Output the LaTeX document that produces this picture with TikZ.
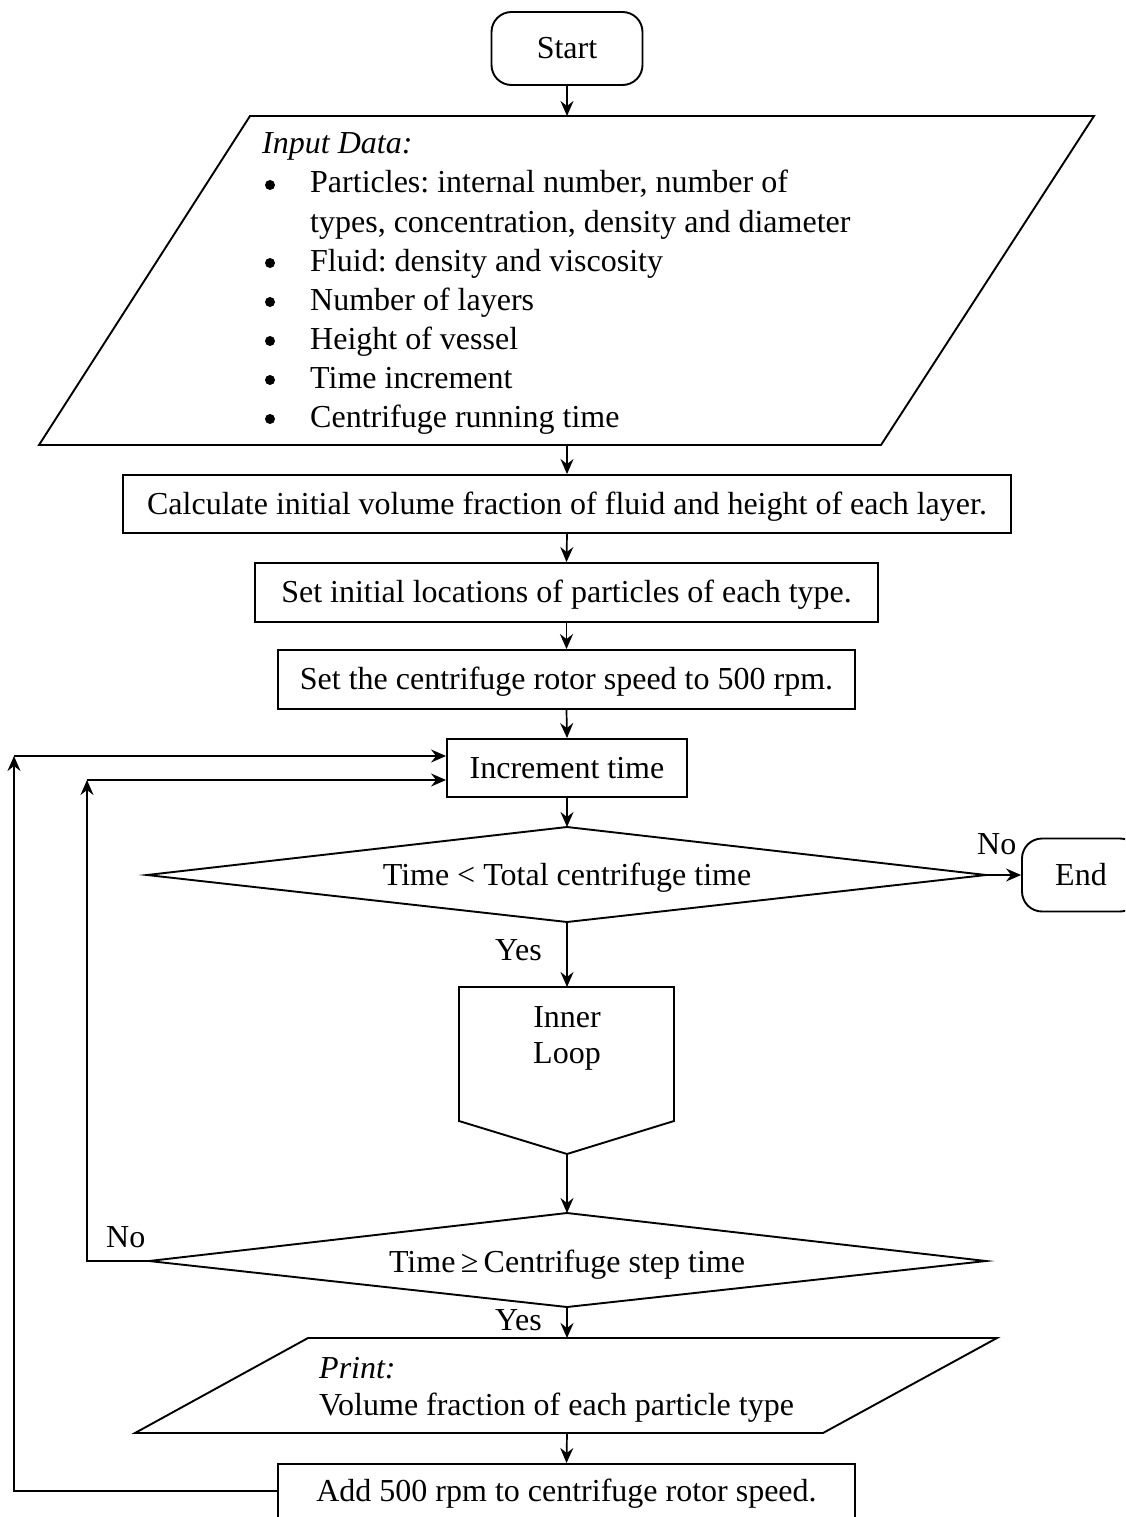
\documentclass[tikz,border=0pt]{standalone}
\usepackage{fontspec}
\setmainfont{Liberation Serif}
\usetikzlibrary{arrows.meta}
\begin{document}
\frenchspacing
\begin{tikzpicture}[x=1pt,y=-1pt,
  every node/.style={font=\fontsize{32}{38}\selectfont},
  shp/.style={draw, line width=1.9pt},
  boxn/.style={shp, inner sep=0pt, text height=20pt, text depth=0pt},
  term/.style={boxn, rounded corners=20pt, minimum height=73pt},
  arr/.style={line width=1.7pt, -{Stealth[length=15pt,width=13pt,inset=5pt]}},
  txt/.style={anchor=base west, inner sep=0pt},
  ctxt/.style={anchor=base, inner sep=0pt}]
\useasboundingbox (0,0) rectangle (1125,1517);
\clip (0,0) rectangle (1125,1517);
\fill[white] (0,0) rectangle (1125,1517);

% Start
\node[term, minimum width=151pt] (start) at (567,48.5) {Start};

% Input parallelogram
\draw[shp] (250,116) -- (1094,116) -- (881,445) -- (39,445) -- cycle;
\coordinate (inTop) at (567,116);
\coordinate (inBot) at (567,445);
\node[txt] (inhead) at (262,154) {\itshape Input Data:};
\foreach \y/\t [count=\i] in {193/{Particles: internal number, number of},
  271/{Fluid: density and viscosity},
  310/{Number of layers},
  349/{Height of vessel},
  388/{Time increment},
  427/{Centrifuge running time}}{
  \fill (270,\y-8) circle (5pt);
  \node[txt] (item\i) at (310,\y) {\t};
}
\node[txt] (item1b) at (310,232) {types, concentration, density and diameter};

% Boxes
\node[boxn, minimum width=888pt, minimum height=58pt] (calc) at (567,504) {Calculate initial volume fraction of fluid and height of each layer.};
\node[boxn, minimum width=623pt, minimum height=59pt] (setloc) at (566.5,592.5) {Set initial locations of particles of each type.};
\node[boxn, minimum width=577pt, minimum height=59pt] (rotor) at (566.5,679.5) {Set the centrifuge rotor speed to 500 rpm.};
\node[boxn, minimum width=240pt, minimum height=58pt] (inc) at (567,768) {Increment time};

% Diamond 1
\draw[shp] (567,827) -- (986,875) -- (567,922) -- (147,875) -- cycle;
\coordinate (d1top) at (567,827);
\coordinate (d1bot) at (567,922);
\coordinate (d1right) at (986,875);
\node[ctxt] (d1text) at (567,885) {Time < Total centrifuge time};

% End
\node[term, minimum width=118pt] (end) at (1081,875) {End};

% Inner loop
\draw[shp] (459,987) -- (674,987) -- (674,1121) -- (567,1154) -- (459,1121) -- cycle;
\coordinate (ilTop) at (567,987);
\coordinate (ilBot) at (567,1154);
\node[ctxt] (il1) at (567,1027) {Inner};
\node[ctxt] (il2) at (567,1063) {Loop};

% Diamond 2
\draw[shp] (567,1213) -- (986,1261) -- (567,1307) -- (149,1261) -- cycle;
\coordinate (d2top) at (567,1213);
\coordinate (d2bot) at (567,1307);
\coordinate (d2left) at (149,1261);
\node[ctxt] (d2text) at (567,1272) {Time\,≥\,Centrifuge step time};

% Print parallelogram
\draw[shp] (308,1338) -- (997,1338) -- (823,1433) -- (135,1433) -- cycle;
\coordinate (prTop) at (567,1338);
\coordinate (prBot) at (567,1433);
\node[txt] (pr1) at (319,1378) {\itshape Print:};
\node[txt] (pr2) at (319,1415) {Volume fraction of each particle type};

% Add box
\node[boxn, minimum width=577pt, minimum height=56pt, anchor=north] (add) at (566.5,1463) {Add 500 rpm to centrifuge rotor speed.};

% Connectors
\draw[arr] (start.south) -- (inTop);
\draw[arr] (inBot) -- (calc.north);
\draw[arr] (calc.south) -- (setloc.north);
\draw[arr] (setloc.south) -- (rotor.north);
\draw[arr] (rotor.south) -- (inc.north);
\draw[arr] (inc.south) -- (d1top);
\draw[arr] (d1right) -- (end.west);
\draw[arr] (d1bot) -- (ilTop);
\draw[arr] (ilBot) -- (d2top);
\draw[arr] (d2bot) -- (prTop);
\draw[arr] (prBot) -- (add.north);

\coordinate (c1) at (14,756);
\coordinate (c2) at (87,780);
\coordinate (addl) at (add.west |- 0,1491);
\draw[arr] (addl) -| (c1);
\draw[arr] (c1) -- (inc.west |- c1);
\draw[arr] (d2left) -| (c2);
\draw[arr] (c2) -- (inc.west |- c2);

% Labels
\node[txt] (no1) at (977,854) {No};
\node[txt] (yes1) at (495,960) {Yes};
\node[txt] (no2) at (106,1247) {No};
\node[txt] (yes2) at (495,1330) {Yes};
\end{tikzpicture}
\end{document}
